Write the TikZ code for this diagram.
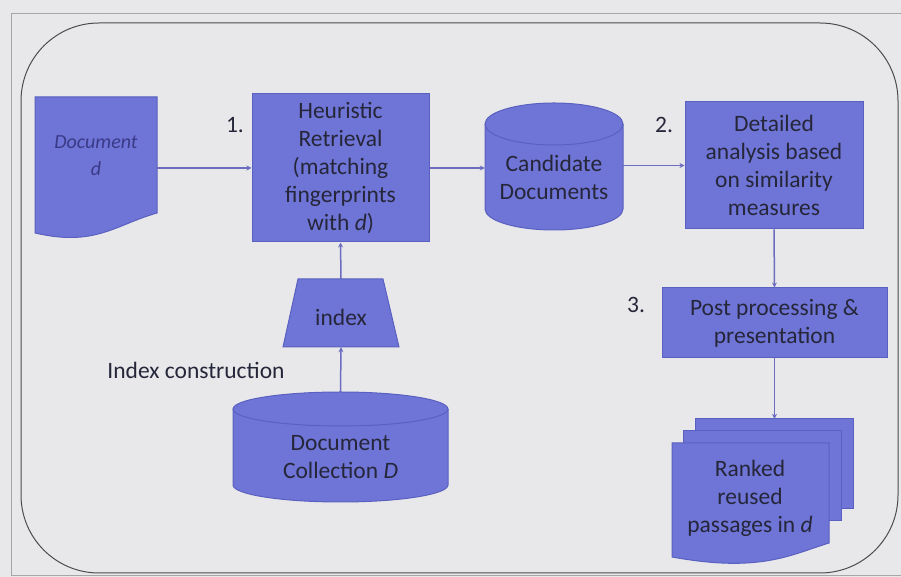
\documentclass[tikz,border=0pt]{standalone}
\usepackage{fontspec}
\setmainfont{Carlito}
\usetikzlibrary{arrows.meta,calc}
\definecolor{bg}{HTML}{E8E8EA}
\definecolor{shapefill}{HTML}{6F75D6}
\definecolor{shapedraw}{HTML}{5A60C0}
\definecolor{linec}{HTML}{6C6CC0}
\definecolor{txt}{HTML}{26263A}
\definecolor{doctxt}{HTML}{3A3A88}
\tikzset{
  x=1pt,y=1pt,
  shp/.style={fill=shapefill,draw=shapedraw,line width=1pt},
  lbl/.style={text=txt,font=\fontsize{23.5}{28}\selectfont,align=center,inner sep=0pt},
  conn/.style={draw=linec,line width=1.5pt,-{Stealth[length=5pt,width=5pt]}},
  anchorbox/.style={draw=none,fill=none,inner sep=0pt}
}
\begin{document}
\begin{tikzpicture}
\useasboundingbox (0,0) rectangle (901,577);
\fill[bg] (0,0) rectangle (901,577);
% outer frame
\draw[gray!70,line width=0.8pt] (11,2) -- (11,564) -- (905,564);
\draw[gray!70,line width=0.8pt] (11,2) -- (905,2);
% rounded container
\draw[draw=gray!60!black,line width=1pt,rounded corners=78pt] (21,4) rectangle (898,554);

% Document d
\draw[shp] (35,480) -- (157,480) -- (157,364) .. controls (115,352) and (95,330) .. (35,344) -- cycle;
\node[anchorbox,minimum width=122pt,minimum height=136pt] (docn) at (96,412) {};
\node[anchorbox,text=doctxt,font=\fontsize{20}{27}\selectfont\itshape,align=center] (doctext) at (96,421) {Document\\d};

% Heuristic retrieval
\node[shp,minimum width=177pt,minimum height=148pt,inner sep=0pt] (heur) at (340.5,409) {};
\node[lbl] (heurtext) at (heur.center) {Heuristic\\Retrieval\\(matching\\fingerprints\\with \textit{d})};
\node[lbl] (n1) at (235,452) {1.};

% Candidate documents cylinder
\draw[shp] (485,453) -- (485,368) arc[start angle=180,end angle=360,x radius=69pt,y radius=21pt] -- (623,453) arc[start angle=0,end angle=180,x radius=69pt,y radius=21pt] -- cycle;
\draw[draw=shapedraw,line width=1pt] (485,453) arc[start angle=180,end angle=360,x radius=69pt,y radius=21pt];
\node[anchorbox,minimum width=138pt,minimum height=127pt] (cand) at (554,410.5) {};
\node[lbl] (candtext) at (554,400) {Candidate\\Documents};

% Detailed analysis
\node[shp,minimum width=178pt,minimum height=127pt,inner sep=0pt] (det) at (774,411.5) {};
\node[lbl] (dettext) at (det.center) {Detailed\\analysis based\\on similarity\\measures};
\node[lbl] (n2) at (664,452) {2.};

% Post processing
\node[shp,minimum width=225pt,minimum height=70pt,inner sep=0pt] (post) at (774.5,254) {};
\node[lbl] (posttext) at (post.center) {Post processing \&\\presentation};
\node[lbl] (n3) at (636,272) {3.};

% Ranked reused passages (multi document)
\draw[shp] (695,158) rectangle (853,68);
\draw[shp] (683,146) rectangle (841,56);
\draw[shp] (672,134) -- (829,134) -- (829,34) .. controls (790,22) and (760,4) .. (672,20) -- cycle;
\node[anchorbox,minimum width=181pt,minimum height=140pt] (ranked) at (762.5,88) {};
\node[lbl] (rankedtext) at (750,79) {Ranked\\reused\\passages in \textit{d}};

% index trapezoid
\draw[shp] (298,298) -- (383,298) -- (399,230) -- (283,230) -- cycle;
\node[anchorbox,minimum width=116pt,minimum height=68pt] (idx) at (341,264) {};
\node[lbl] (idxtext) at (341,260) {index};

% Document collection cylinder
\draw[shp] (233,168) -- (233,92) arc[start angle=180,end angle=360,x radius=107.5pt,y radius=17pt] -- (448,168) arc[start angle=0,end angle=180,x radius=107.5pt,y radius=17pt] -- cycle;
\draw[draw=shapedraw,line width=1pt] (233,168) arc[start angle=180,end angle=360,x radius=107.5pt,y radius=17pt];
\node[anchorbox,minimum width=215pt,minimum height=110pt] (coll) at (340.5,130) {};
\node[lbl] (colltext) at (340.5,120) {Document\\Collection \textit{D}};

\node[lbl] (idxcons) at (196,207) {Index construction};

% connectors
\draw[conn] (heur.west -| docn.east) -- (heur.west);
\draw[conn] (heur.east) -- (heur.east -| cand.west);
\draw[conn] (det.west -| cand.east) -- (det.west);
\draw[conn] (det.south) -- (post.north);
\draw[conn] (post.south) -- (post.south |- ranked.north);
\draw[conn] (idx.north) -- (heur.south);
\draw[conn] (coll.north) -- (idx.south);
\end{tikzpicture}
\end{document}
